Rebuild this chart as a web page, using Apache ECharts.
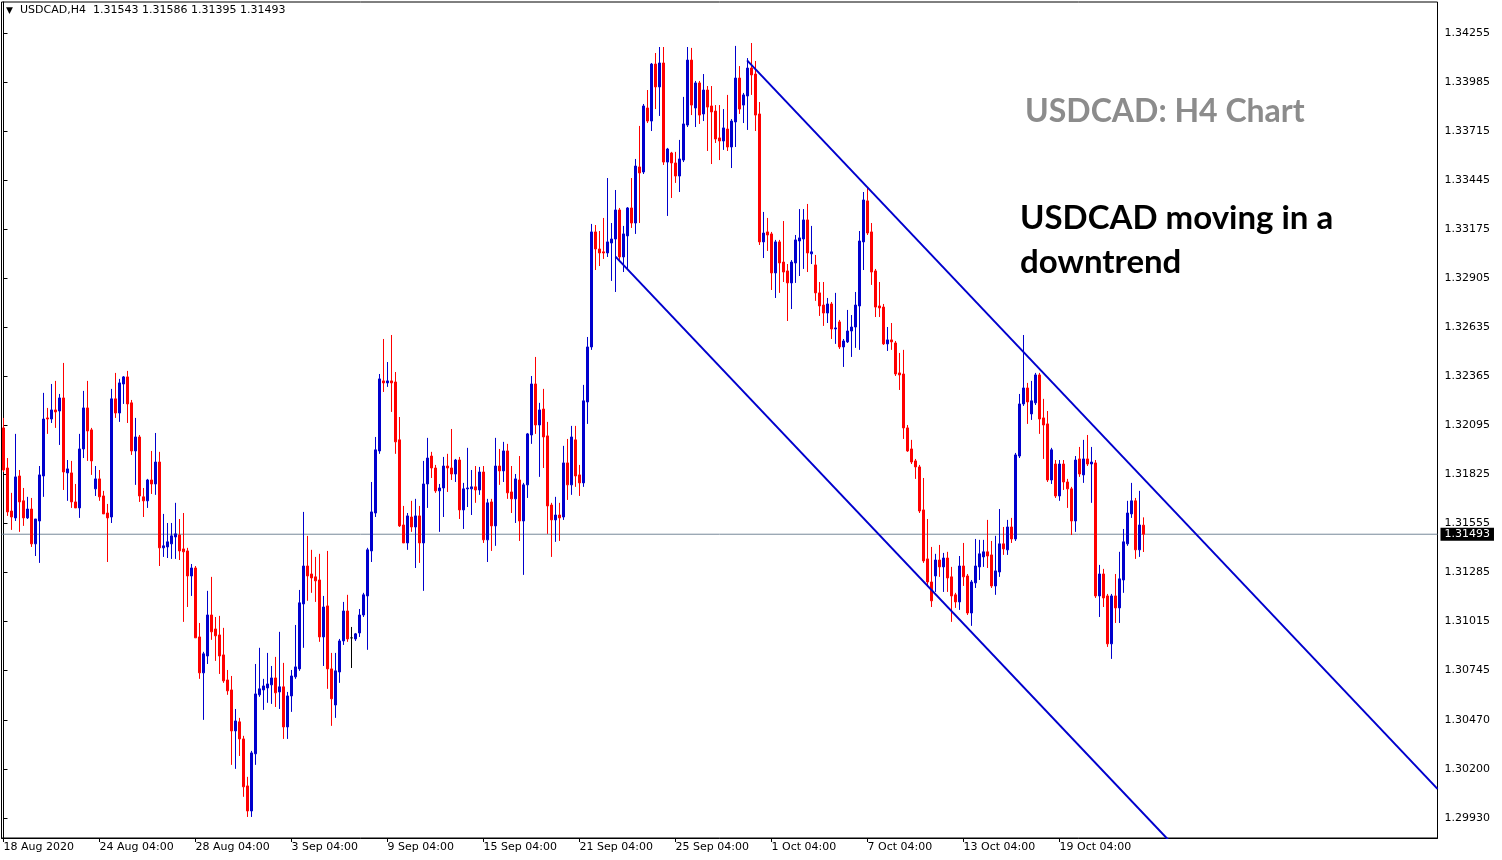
<!DOCTYPE html>
<html>
<head>
<meta charset="utf-8">
<script src="https://cdn.jsdelivr.net/npm/echarts@6/dist/echarts.min.js"></script>
<style>
html,body{margin:0;padding:0;background:#ffffff;}
#chart{width:1502px;height:860px;}
</style>
</head>
<body>
<div id="chart"></div>
<script>
// ---------- data ----------
const symbolName = 'USDCAD,H4';
const xLabels = ['18 Aug 2020','24 Aug 04:00','28 Aug 04:00','3 Sep 04:00','9 Sep 04:00','15 Sep 04:00','21 Sep 04:00','25 Sep 04:00','1 Oct 04:00','7 Oct 04:00','13 Oct 04:00','19 Oct 04:00'];
const yTicks = [1.34255,1.33985,1.33715,1.33445,1.33175,1.32905,1.32635,1.32365,1.32095,1.31825,1.31555,1.31285,1.31015,1.30745,1.30470,1.30200,1.29930];

const opens = [1.32079,1.31858,1.31621,1.31583,1.31814,1.31677,1.31583,1.31632,1.31440,1.31566,
1.31814,1.32134,1.32128,1.32178,1.32172,1.32244,1.31831,1.31831,1.31671,1.31638,
1.31963,1.32189,1.32068,1.31743,1.31798,1.31704,1.31610,1.31588,1.32239,1.32161,
1.32321,1.32360,1.32217,1.31952,1.32029,1.31699,1.31677,1.31792,1.31770,1.31891,
1.31418,1.31423,1.31440,1.31478,1.31489,1.31412,1.31401,1.31263,1.31307,1.30927,
1.30729,1.30822,1.31048,1.30971,1.30938,1.30828,1.30690,1.30635,1.30409,1.30459,
1.30365,1.30106,1.29968,1.30283,1.30608,1.30635,1.30646,1.30663,1.30701,1.30624,
1.30652,1.30431,1.30602,1.30707,1.30751,1.31109,1.31318,1.31274,1.31258,1.31241,
1.30927,1.31098,1.30751,1.30552,1.30734,1.30905,1.31070,1.30922,1.30916,1.30949,
1.31048,1.31153,1.31401,1.31610,1.31952,1.32338,1.32327,1.32338,1.32332,1.32013,
1.31544,1.31445,1.31588,1.31533,1.31594,1.31445,1.31770,1.31924,1.31858,1.31732,
1.31748,1.31869,1.31858,1.31825,1.31902,1.31627,1.31743,1.31743,1.31754,1.31737,
1.31836,1.31462,1.31671,1.31539,1.31869,1.31842,1.31952,1.31726,1.31688,1.31792,
1.31566,1.31765,1.32040,1.32321,1.32095,1.32183,1.32035,1.31654,1.31572,1.31599,
1.31588,1.31886,1.31765,1.32013,1.31820,1.31776,1.32222,1.32525,1.33159,1.33065,
1.33049,1.33043,1.33098,1.33120,1.33280,1.33021,1.33137,1.33291,1.33208,1.33517,
1.33489,1.33842,1.33770,1.34084,1.33958,1.34090,1.33544,1.33594,1.33539,1.33467,
1.33555,1.33748,1.34106,1.33842,1.33980,1.33809,1.33941,1.33853,1.33825,1.33677,
1.33660,1.33726,1.33627,1.33765,1.34007,1.33858,1.33908,1.34062,1.34029,1.33809,
1.33104,1.33159,1.33148,1.32933,1.33104,1.32993,1.32944,1.32878,1.32988,1.33109,
1.33120,1.33225,1.33038,1.32977,1.32823,1.32756,1.32712,1.32762,1.32624,1.32663,
1.32525,1.32553,1.32613,1.32635,1.32751,1.33104,1.33330,1.33159,1.32944,1.32751,
1.32745,1.32542,1.32564,1.32547,1.32382,1.32376,1.32079,1.31963,1.31897,1.31864,
1.31627,1.31357,1.31230,1.31263,1.31351,1.31313,1.31362,1.31258,1.31159,1.31120,
1.31318,1.31263,1.31059,1.31225,1.31313,1.31368,1.31396,1.31379,1.31208,1.31285,
1.31440,1.31407,1.31533,1.31467,1.31924,1.32211,1.32299,1.32156,1.32217,1.32371,
1.32134,1.32101,1.31792,1.31880,1.31704,1.31880,1.31781,1.31743,1.31566,1.31908,
1.31820,1.31908,1.31880,1.31886,1.31153,1.31274,1.31153,1.30889,1.31153,1.31087,
1.31241,1.31440,1.31605,1.31677,1.31407,1.31543];

const highs = [1.32134,1.31913,1.31721,1.32046,1.31847,1.31748,1.31699,1.31693,1.31577,1.31869,
1.32272,1.32189,1.32321,1.32338,1.32266,1.32437,1.31902,1.31897,1.31770,1.32046,
1.32283,1.32338,1.32079,1.31869,1.31847,1.31732,1.31660,1.32294,1.32382,1.32349,
1.32365,1.32393,1.32233,1.32134,1.32040,1.31748,1.31798,1.31952,1.32051,1.31947,
1.31605,1.31555,1.31555,1.31666,1.31577,1.31610,1.31418,1.31329,1.31318,1.31004,
1.30845,1.31181,1.31258,1.31037,1.31043,1.30977,1.30745,1.30712,1.30530,1.30481,
1.30382,1.30156,1.30299,1.30778,1.30867,1.30696,1.30839,1.30767,1.30817,1.30955,
1.30784,1.30624,1.30745,1.30993,1.31186,1.31616,1.31484,1.31407,1.31368,1.31385,
1.31153,1.31401,1.30839,1.30839,1.30916,1.31120,1.31159,1.30982,1.30949,1.31081,
1.31170,1.31418,1.31781,1.32029,1.32376,1.32569,1.32442,1.32591,1.32387,1.32139,
1.31649,1.31610,1.31677,1.31688,1.31649,1.31897,1.32024,1.31947,1.31875,1.31770,
1.31919,1.31936,1.32073,1.31908,1.31919,1.31776,1.31969,1.31847,1.31869,1.31864,
1.31869,1.31688,1.31688,1.32024,1.31963,1.32002,1.31991,1.31869,1.31825,1.31924,
1.31776,1.32051,1.32365,1.32470,1.32217,1.32294,1.32112,1.31666,1.31699,1.31666,
1.31980,1.32018,1.32090,1.32090,1.31875,1.32316,1.32580,1.33203,1.33197,1.33164,
1.33236,1.33456,1.33208,1.33390,1.33291,1.33192,1.33296,1.33456,1.33561,1.33743,
1.33864,1.33941,1.34090,1.34145,1.34178,1.34178,1.33622,1.33600,1.33600,1.33666,
1.33903,1.34178,1.34173,1.33991,1.33991,1.34029,1.33963,1.33963,1.33858,1.33858,
1.33836,1.33914,1.33781,1.34184,1.34073,1.33925,1.34117,1.34200,1.34101,1.33875,
1.33269,1.33236,1.33159,1.33115,1.33115,1.33219,1.32982,1.33004,1.33142,1.33285,
1.33285,1.33313,1.33192,1.33032,1.32883,1.32883,1.32795,1.32773,1.32823,1.32674,
1.32569,1.32729,1.32701,1.32828,1.33164,1.33379,1.33401,1.33208,1.32955,1.32883,
1.32762,1.32635,1.32657,1.32558,1.32492,1.32509,1.32095,1.32013,1.31908,1.31875,
1.31803,1.31577,1.31423,1.31385,1.31434,1.31390,1.31396,1.31313,1.31170,1.31373,
1.31445,1.31274,1.31241,1.31467,1.31462,1.31462,1.31572,1.31456,1.31484,1.31632,
1.31533,1.31572,1.31583,1.31941,1.32266,1.32591,1.32327,1.32338,1.32382,1.32382,
1.32239,1.32172,1.31969,1.31902,1.31902,1.31902,1.31798,1.31754,1.31924,1.31974,
1.32013,1.32040,1.31974,1.31902,1.31324,1.31302,1.31164,1.31164,1.31274,1.31396,
1.31522,1.31677,1.31776,1.31693,1.31732,1.31586];

const lows = [1.31836,1.31594,1.31517,1.31566,1.31506,1.31539,1.31577,1.31423,1.31373,1.31335,
1.31699,1.32046,1.32106,1.32079,1.31985,1.31737,1.31677,1.31638,1.31638,1.31583,
1.31913,1.31897,1.31820,1.31704,1.31677,1.31605,1.31340,1.31555,1.32134,1.32112,
1.32211,1.32106,1.31930,1.31765,1.31671,1.31588,1.31638,1.31715,1.31710,1.31318,
1.31368,1.31362,1.31357,1.31357,1.31351,1.31010,1.31092,1.31153,1.30922,1.30696,
1.30470,1.30778,1.30911,1.30795,1.30723,1.30674,1.30608,1.30222,1.30200,1.30271,
1.30046,1.29935,1.29935,1.30222,1.30597,1.30525,1.30564,1.30558,1.30541,1.30530,
1.30365,1.30365,1.30514,1.30696,1.30740,1.30867,1.31126,1.31170,1.31120,1.30900,
1.30767,1.30641,1.30437,1.30481,1.30674,1.30883,1.30900,1.30756,1.30905,1.30927,
1.31037,1.30856,1.31340,1.31588,1.31936,1.32277,1.32305,1.32167,1.31936,1.31533,
1.31445,1.31407,1.31506,1.31307,1.31335,1.31181,1.31638,1.31803,1.31721,1.31506,
1.31588,1.31726,1.31792,1.31781,1.31577,1.31522,1.31643,1.31599,1.31666,1.31710,
1.31445,1.31340,1.31401,1.31429,1.31765,1.31781,1.31688,1.31610,1.31555,1.31456,
1.31269,1.31693,1.31991,1.32046,1.31809,1.31858,1.31495,1.31368,1.31451,1.31456,
1.31572,1.31682,1.31710,1.31754,1.31704,1.31754,1.32101,1.32509,1.32949,1.32971,
1.33010,1.33021,1.32889,1.32828,1.32993,1.32938,1.32949,1.33181,1.33148,1.33208,
1.33478,1.33759,1.33715,1.33836,1.33798,1.33528,1.33247,1.33346,1.33429,1.33379,
1.33544,1.33737,1.33803,1.33737,1.33754,1.33770,1.33605,1.33533,1.33649,1.33555,
1.33611,1.33605,1.33511,1.33627,1.33809,1.33759,1.33721,1.33914,1.33715,1.33087,
1.33015,1.33054,1.32839,1.32795,1.32823,1.32883,1.32668,1.32734,1.32878,1.32916,
1.32955,1.32938,1.32982,1.32779,1.32696,1.32641,1.32657,1.32569,1.32542,1.32514,
1.32415,1.32547,1.32470,1.32520,1.32509,1.32949,1.33142,1.32867,1.32690,1.32690,
1.32536,1.32503,1.32509,1.32365,1.32288,1.32018,1.31947,1.31880,1.31798,1.31610,
1.31335,1.31203,1.31092,1.31175,1.31258,1.31175,1.31175,1.31010,1.31087,1.31076,
1.31208,1.31048,1.30988,1.31197,1.31241,1.31313,1.31307,1.31197,1.31159,1.31258,
1.31379,1.31379,1.31445,1.31456,1.31913,1.32200,1.32101,1.32123,1.32205,1.32046,
1.31908,1.31781,1.31770,1.31693,1.31677,1.31737,1.31638,1.31489,1.31506,1.31809,
1.31776,1.31869,1.31666,1.31142,1.31037,1.31092,1.30872,1.30806,1.31004,1.31004,
1.31170,1.31429,1.31583,1.31357,1.31368,1.31395];

const closes = [1.31847,1.31616,1.31588,1.31809,1.31671,1.31583,1.31632,1.31440,1.31577,1.31820,
1.32128,1.32128,1.32178,1.32167,1.32244,1.31836,1.31853,1.31671,1.31638,1.31963,
1.32189,1.32062,1.31897,1.31798,1.31699,1.31605,1.31583,1.32239,1.32161,1.32327,
1.32360,1.32211,1.31952,1.32029,1.31704,1.31677,1.31792,1.31770,1.31891,1.31418,
1.31429,1.31451,1.31484,1.31495,1.31401,1.31396,1.31263,1.31307,1.30922,1.30729,
1.30834,1.31048,1.30955,1.30933,1.30822,1.30685,1.30630,1.30409,1.30464,1.30365,
1.30101,1.29968,1.30288,1.30613,1.30641,1.30657,1.30668,1.30701,1.30619,1.30652,
1.30431,1.30602,1.30712,1.30762,1.31115,1.31318,1.31263,1.31252,1.31236,1.30927,
1.31092,1.30751,1.30586,1.30740,1.30905,1.31070,1.30916,1.30922,1.30944,1.31048,
1.31159,1.31407,1.31616,1.31958,1.32349,1.32327,1.32338,1.32327,1.32002,1.31539,
1.31445,1.31594,1.31533,1.31594,1.31445,1.31770,1.31913,1.31858,1.31732,1.31748,
1.31869,1.31858,1.31825,1.31902,1.31627,1.31743,1.31748,1.31754,1.31737,1.31836,
1.31462,1.31666,1.31539,1.31869,1.31842,1.31952,1.31721,1.31688,1.31798,1.31566,
1.31765,1.32046,1.32321,1.32095,1.32178,1.32029,1.31649,1.31572,1.31599,1.31583,
1.31886,1.31765,1.32029,1.31814,1.31776,1.32228,1.32525,1.33159,1.33065,1.33043,
1.33043,1.33104,1.33120,1.33280,1.33021,1.33148,1.33291,1.33208,1.33522,1.33484,
1.33853,1.33770,1.34084,1.33958,1.34090,1.33544,1.33616,1.33539,1.33467,1.33561,
1.33754,1.34106,1.33858,1.33980,1.33803,1.33941,1.33847,1.33820,1.33671,1.33660,
1.33732,1.33627,1.33770,1.34007,1.33836,1.33914,1.34062,1.34024,1.33803,1.33104,
1.33153,1.33142,1.32933,1.33104,1.32988,1.32938,1.32878,1.32993,1.33115,1.33126,
1.33225,1.33043,1.33049,1.32823,1.32751,1.32712,1.32762,1.32624,1.32630,1.32525,
1.32558,1.32613,1.32635,1.32756,1.33109,1.33335,1.33153,1.32938,1.32745,1.32740,
1.32542,1.32564,1.32553,1.32376,1.32371,1.32079,1.31952,1.31891,1.31864,1.31621,
1.31346,1.31230,1.31126,1.31351,1.31313,1.31362,1.31252,1.31153,1.31120,1.31318,
1.31258,1.31059,1.31230,1.31318,1.31385,1.31396,1.31373,1.31208,1.31291,1.31440,
1.31412,1.31533,1.31467,1.31930,1.32211,1.32299,1.32222,1.32228,1.32371,1.32128,
1.32095,1.31792,1.31958,1.31704,1.31880,1.31781,1.31743,1.31566,1.31902,1.31825,
1.31908,1.31880,1.31891,1.31153,1.31274,1.31142,1.30889,1.31153,1.31087,1.31247,
1.31451,1.31610,1.31677,1.31407,1.31544,1.31493];

const dojiBars = [87];               // zero-based index of the black doji bar
const upperChannel = [[185.9, 1.34104], [358.5, 1.30090]];
const lowerChannel = [[153.0, 1.33023], [358.5, 1.28244]];
const lastPrice = closes[closes.length - 1];

// ---------- chart ----------
const SLOTS = 359;      // visible bar slots across the plot
const LABEL_STEP = 24;
const UP = '#0000CD', DOWN = '#FF0000';
const axisFont = 'DejaVu Sans';

const categories = Array.from({length: SLOTS}, (_, i) => String(i));
const isLabelIdx = (i) => i % LABEL_STEP === 0 && (i / LABEL_STEP) < xLabels.length;

const candleData = opens.map((o, i) => {
  const v = [o, closes[i], lows[i], highs[i]];
  if (dojiBars.indexOf(i) >= 0) {
    return {value: v, itemStyle: {color: '#000', color0: '#000', borderColor: '#000', borderColor0: '#000'}};
  }
  return v;
});

const n = opens.length - 1;
const headerText = symbolName + '  ' + [opens[n], highs[n], lows[n], closes[n]].map(v => v.toFixed(5)).join(' ');

const chart = echarts.init(document.getElementById('chart'), null, {renderer: 'canvas'});
chart.setOption({
  animation: false,
  backgroundColor: '#ffffff',
  grid: {left: 1.5, right: 64.5, top: 2, bottom: 22, show: true, borderColor: '#000', borderWidth: 1, backgroundColor: 'transparent'},
  xAxis: [{
    type: 'category',
    data: categories,
    boundaryGap: true,
    axisLine: {show: true, lineStyle: {color: '#000', width: 1}},
    axisTick: {show: true, alignWithLabel: true, length: 4, interval: (i) => isLabelIdx(i), lineStyle: {color: '#000'}},
    axisLabel: {show: true, interval: (i) => isLabelIdx(i), formatter: (v, i) => isLabelIdx(i) ? xLabels[i / LABEL_STEP] : '',
      align: 'left', color: '#000', fontFamily: axisFont, fontSize: 11, margin: 4},
    splitLine: {show: false}
  }, {
    type: 'value', show: false, min: -0.5, max: SLOTS - 0.5
  }],
  yAxis: {
    type: 'value',
    position: 'right',
    min: 1.29819,
    max: 1.34426,
    scale: true,
    axisLine: {show: true, lineStyle: {color: '#000', width: 1}},
    axisTick: {show: true, length: 4, customValues: yTicks, lineStyle: {color: '#000'}},
    axisLabel: {show: true, customValues: yTicks, formatter: (v) => v.toFixed(5), color: '#000', fontFamily: axisFont, fontSize: 11, margin: 7},
    splitLine: {show: false}
  },
  series: [{
    type: 'line', name: 'last', xAxisIndex: 1, z: 1,
    data: [[-0.5, lastPrice], [SLOTS - 0.5, lastPrice]],
    showSymbol: false, symbol: 'none', silent: true,
    lineStyle: {color: '#778899', width: 1},
    endLabel: {show: true, distance: 3, formatter: () => lastPrice.toFixed(5),
      color: '#fff', backgroundColor: '#000', padding: [1, 4, 0, 4], fontFamily: axisFont, fontSize: 11, lineHeight: 12}
  }, {
    type: 'candlestick',
    name: 'USDCAD',
    z: 3,
    data: candleData,
    barWidth: 2,
    itemStyle: {color: UP, color0: DOWN, borderColor: UP, borderColor0: DOWN, borderWidth: 1}
  }, {
    type: 'line', xAxisIndex: 1, z: 4, data: upperChannel, showSymbol: false, symbol: 'none', clip: true,
    lineStyle: {color: UP, width: 2}, silent: true
  }, {
    type: 'line', xAxisIndex: 1, z: 4, data: lowerChannel, showSymbol: false, symbol: 'none', clip: true,
    lineStyle: {color: UP, width: 2}, silent: true
  }],
  graphic: [
    {type: 'text', left: 6, top: 6, style: {text: '\u25BC', fill: '#000', font: '9px "DejaVu Sans"'}},
    {type: 'text', left: 20, top: 5, style: {text: headerText, fill: '#000', font: '11px "DejaVu Sans"'}},
    {type: 'text', left: 1025, top: 96, style: {text: 'USDCAD: H4 Chart', fill: '#8c8c8c', font: 'bold 32px Lato'}},
    {type: 'text', left: 1020, top: 202, style: {text: 'USDCAD moving in a', fill: '#000', font: 'bold 33px Lato'}},
    {type: 'text', left: 1020, top: 246, style: {text: 'downtrend', fill: '#000', font: 'bold 33px Lato'}}
  ]
});
</script>
</body>
</html>
